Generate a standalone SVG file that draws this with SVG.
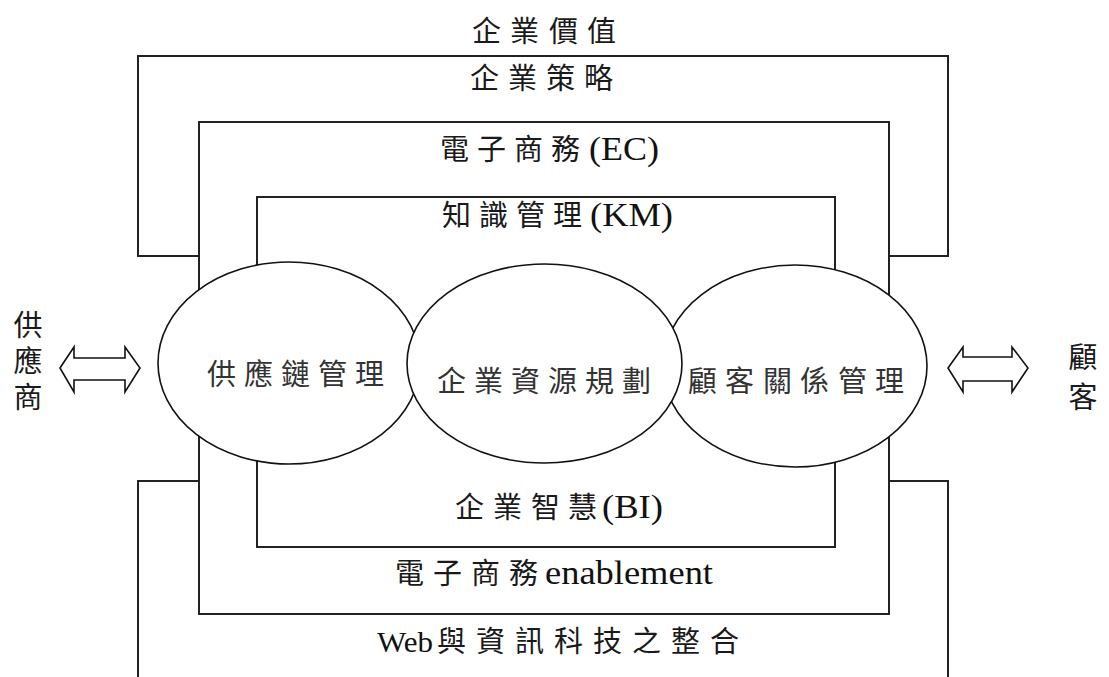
<svg xmlns="http://www.w3.org/2000/svg" width="1109" height="677" viewBox="0 0 1109 677">
<style>
.frame{fill:#fff;stroke:#222;stroke-width:2}
.ell{fill:#fff;stroke:#111;stroke-width:1.6}
.arrow{fill:#fff;stroke:#111;stroke-width:1.6;stroke-linejoin:miter}
.cjk{font-family:"Noto Sans CJK TC","Noto Sans CJK SC",sans-serif;font-size:29px;fill:#1a1a1a}
.lat{font-family:"Liberation Serif",serif;font-size:34px;fill:#111}
.in{fill:#333}
.vert{writing-mode:vertical-rl}
</style>
<rect width="1109" height="677" fill="#fff"/>
<g id="layer-strategy">
<rect class="frame" x="138" y="56" width="810" height="200"/>
<text class="cjk" x="472 510 549 587" y="42">企業價值</text>
<text class="cjk" x="470 508 546 584" y="89">企業策略</text>
</g>
<g id="layer-integration">
<path class="frame" d="M138,690 V481 H948 V690"/>
<text y="652"><tspan class="lat" x="377" style="font-size:30px" textLength="56" lengthAdjust="spacingAndGlyphs">Web</tspan><tspan class="cjk" x="437 476 515 554 593 632 671 710">與資訊科技之整合</tspan></text>
</g>
<g id="layer-ec">
<rect class="frame" x="199" y="122" width="690" height="492"/>
<text y="160"><tspan class="cjk" x="440 477 514 551">電子商務</tspan><tspan class="lat" x="589" textLength="70" lengthAdjust="spacingAndGlyphs">(EC)</tspan></text>
<text y="584"><tspan class="cjk" x="395 433 471 509">電子商務</tspan><tspan class="lat" x="545" textLength="168" lengthAdjust="spacingAndGlyphs">enablement</tspan></text>
</g>
<g id="layer-km">
<rect class="frame" x="257" y="197" width="578" height="350"/>
<text y="226"><tspan class="cjk" x="442 479 516 553">知識管理</tspan><tspan class="lat" x="590" textLength="83" lengthAdjust="spacingAndGlyphs">(KM)</tspan></text>
<text y="518"><tspan class="cjk" x="455 493 531 568">企業智慧</tspan><tspan class="lat" x="602" textLength="61" lengthAdjust="spacingAndGlyphs">(BI)</tspan></text>
</g>
<g id="node-scm">
<ellipse class="ell" cx="289" cy="363" rx="131" ry="101"/>
<text class="cjk in" x="207 244 281 318 355" y="385">供應鏈管理</text>
</g>
<g id="node-crm">
<ellipse class="ell" cx="795" cy="366" rx="132" ry="101"/>
<text class="cjk in" x="688 725 763 800 838 875" y="392">顧客關係管理</text>
</g>
<g id="node-erp">
<ellipse class="ell" cx="544.5" cy="363.5" rx="137.5" ry="99.5"/>
<text class="cjk in" x="437 474 511 548 585 622" y="392">企業資源規劃</text>
</g>
<g id="node-supplier">
<text class="cjk vert" x="28" y="310" style="letter-spacing:7px">供應商</text>
</g>
<g id="node-customer">
<text class="cjk vert" x="1083" y="342" style="letter-spacing:11px">顧客</text>
</g>
<g id="connectors">
<path class="arrow" d="M60,368 L74,347 V358 H125 V347 L140,368 L125,392 V380 H74 V392 Z"/>
<path class="arrow" d="M948,368 L963,347 V357 H1012 V347 L1028,368 L1012,392 V381 H963 V392 Z"/>
</g>
</svg>
